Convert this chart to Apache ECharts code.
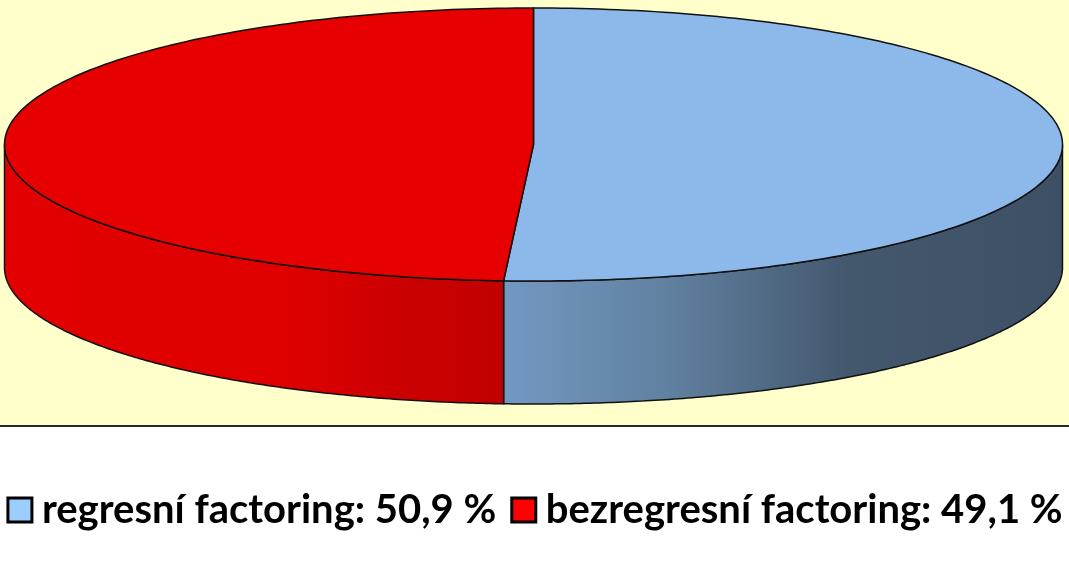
<!DOCTYPE html>
<html>
<head>
<meta charset="utf-8">
<script src="https://cdn.jsdelivr.net/npm/echarts@6/dist/echarts.min.js"></script>
<style>html,body{margin:0;padding:0;background:#fff}#c{width:1069px;height:588px}</style>
</head>
<body>
<div id="c"></div>
<script>
const categories = ['regresní factoring', 'bezregresní factoring'];
const values = [50.9, 49.1];
const topColors = ['#8DB9EA', '#E60000'];
const legendColors = ['#9BCDFF', '#FF0000'];

// layout of the 3D pie (pixels)
const CX = 533.5, CY = 144.5, RX = 529, RY = 136.5, DEPTH = 123;
const sideGradients = [
  {x: 504, x2: 1062, stops: [[0, '#7398C2'], [0.3, '#60809F'], [0.62, '#43576D'], [1, '#3E5066']]},
  {x: 5, x2: 504, stops: [[0, '#E20000'], [0.55, '#E00000'], [0.78, '#CC0000'], [1, '#C20000']]}
];

function pt(t, dz) { return [CX + RX * Math.sin(t), CY - RY * Math.cos(t) + dz]; }
function arc(a, b, dz) {
  const n = 180, pts = [];
  for (let k = 0; k <= n; k++) pts.push(pt(a + (b - a) * k / n, dz));
  return pts;
}

function makeRender(i) {
  return function (params, api) {
    const total = values.reduce((s, v) => s + v, 0);
    let a0 = 0;
    for (let k = 0; k < i; k++) a0 += values[k] / total * Math.PI * 2;
    const a1 = a0 + api.value(0) / total * Math.PI * 2;
    const children = [];
    const s = Math.max(a0, Math.PI / 2), e = Math.min(a1, Math.PI * 1.5);
    if (e > s) {
      const g = sideGradients[i];
      const pts = arc(s, e, 0).concat(arc(e, s, DEPTH));
      children.push({
        type: 'polygon', shape: {points: pts},
        style: {
          fill: {type: 'linear', x: g.x, y: 0, x2: g.x2, y2: 0, global: true,
                 colorStops: g.stops.map(st => ({offset: st[0], color: st[1]}))},
          stroke: '#111', lineWidth: 1.5
        }
      });
    }
    const top = [[CX, CY]].concat(arc(a0, a1, 0));
    children.push({
      type: 'polygon', shape: {points: top},
      style: {fill: topColors[i], stroke: '#111', lineWidth: 1.5}
    });
    return {type: 'group', children: children};
  };
}

const chart = echarts.init(document.getElementById('c'), null, {renderer: 'canvas'});
chart.setOption({
  animation: false,
  backgroundColor: '#ffffff',
  graphic: [
    {type: 'rect', z: -10, shape: {x: 0, y: 0, width: 1069, height: 425}, style: {fill: '#FFFFCC'}},
    {type: 'rect', z: -9, shape: {x: 0, y: 425, width: 1069, height: 2}, style: {fill: '#2a2a2a'}}
  ],
  legend: {
    left: 'center', top: 490, padding: 0,
    icon: 'rect', itemWidth: 24, itemHeight: 24, itemGap: 14,
    textStyle: {fontFamily: 'Lato', fontWeight: 'bold', fontSize: 40, color: '#000', padding: [0, 0, 0, 5]},
    formatter: function (name) {
      const i = categories.indexOf(name);
      return name + ': ' + values[i].toFixed(1).replace('.', ',') + ' %';
    },
    data: categories.map((n, i) => ({name: n, itemStyle: {color: legendColors[i], borderColor: '#000', borderWidth: 3}}))
  },
  series: categories.map((n, i) => ({
    type: 'custom', name: n, coordinateSystem: 'none', silent: true,
    itemStyle: {color: topColors[i]},
    renderItem: makeRender(i),
    data: [[values[i]]]
  }))
});
</script>
</body>
</html>
